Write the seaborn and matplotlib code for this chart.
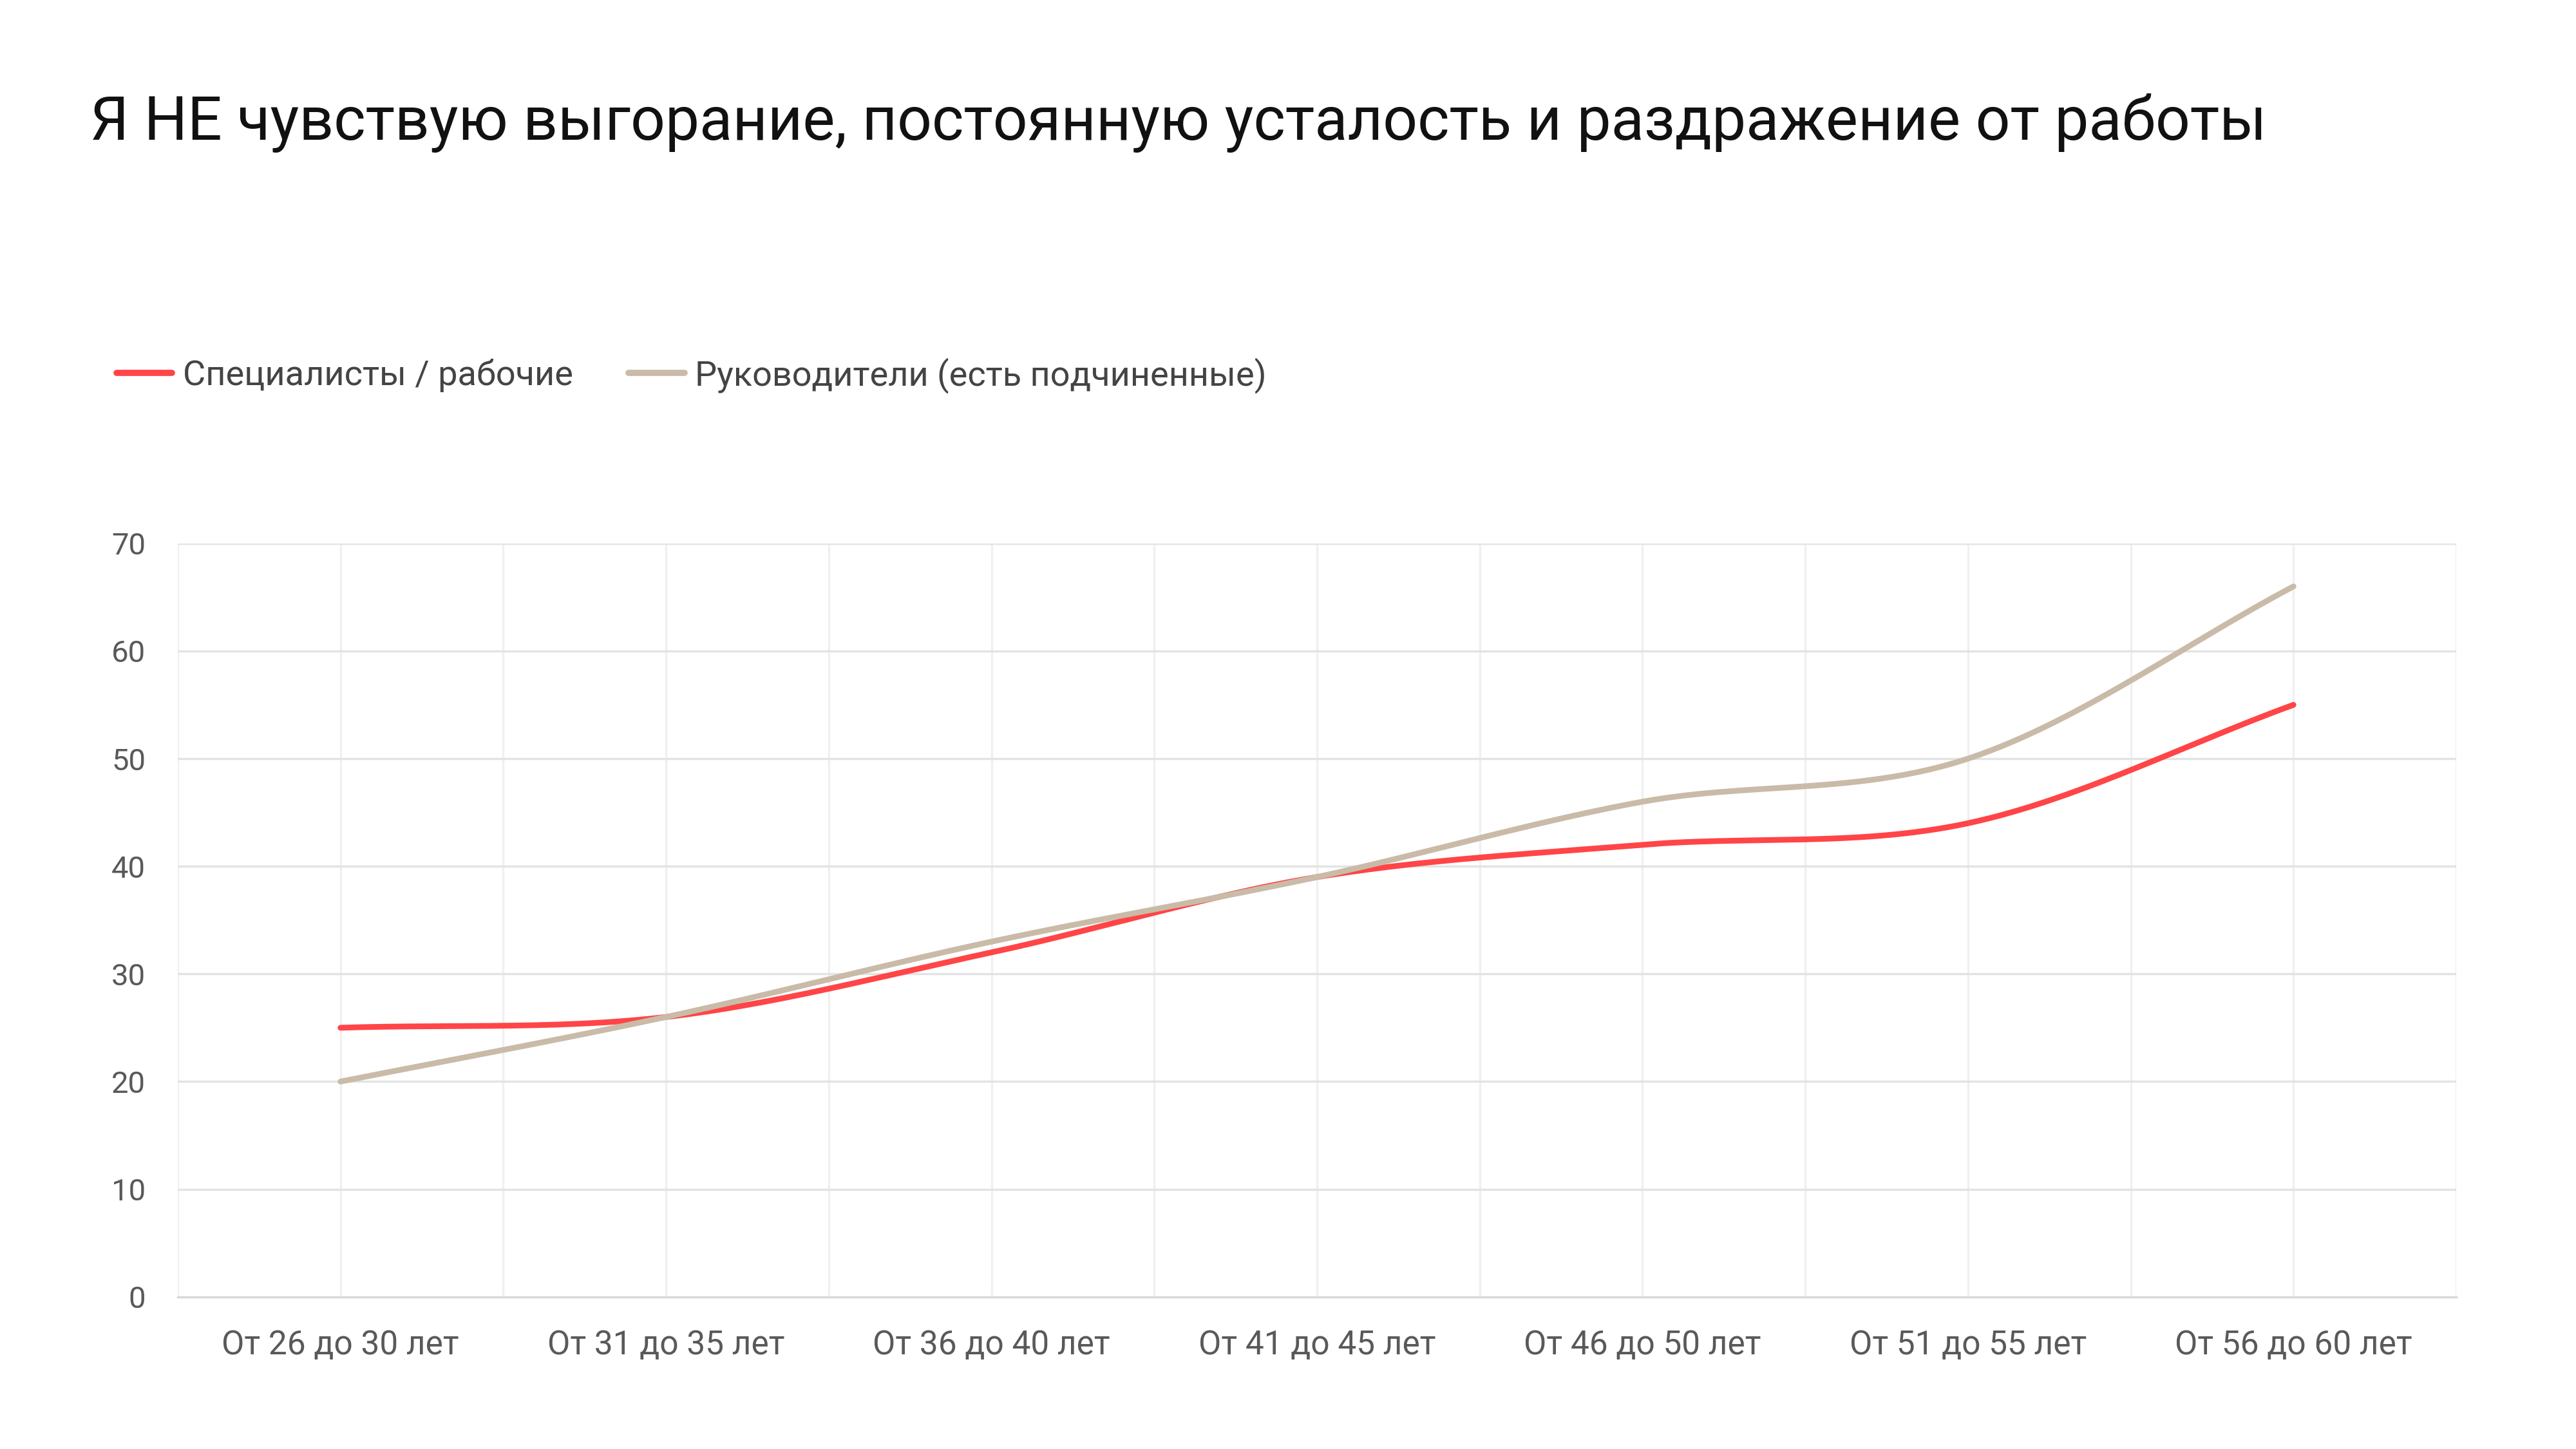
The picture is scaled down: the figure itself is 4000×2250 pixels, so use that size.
import numpy as np
import pandas as pd
import matplotlib
matplotlib.use("Agg")
import matplotlib.pyplot as plt
import seaborn as sns

categories = ["От 26 до 30 лет", "От 31 до 35 лет", "От 36 до 40 лет", "От 41 до 45 лет",
              "От 46 до 50 лет", "От 51 до 55 лет", "От 56 до 60 лет"]
specialists = [25, 26, 32, 39, 42, 44, 55]
managers = [20, 26, 33, 39, 46, 50, 66]
series_names = ["Специалисты / рабочие", "Руководители (есть подчиненные)"]
colors = ["#FF4547", "#C9BBA8"]

sns.set_theme(style="white")
plt.rcParams['font.family'] = ['Roboto', 'DejaVu Sans']

def smooth(y, n=30):
    # Catmull-Rom path through the data points (for drawing only)
    y = np.asarray(y, float)
    x = np.arange(len(y), dtype=float)
    P = np.r_[2*y[0]-y[1], y, 2*y[-1]-y[-2]]
    xs, ys = [], []
    for i in range(len(y)-1):
        t = np.linspace(0, 1, n, endpoint=False)
        p0, p1, p2, p3 = P[i], P[i+1], P[i+2], P[i+3]
        ys.append(0.5*((2*p1) + (-p0+p2)*t + (2*p0-5*p1+4*p2-p3)*t**2 + (-p0+3*p1-3*p2+p3)*t**3))
        xs.append(x[i] + t)
    xs.append([x[-1]]); ys.append([y[-1]])
    return np.concatenate(xs), np.concatenate(ys)

rows = []
for name, vals in zip(series_names, [specialists, managers]):
    xs, ys = smooth(vals)
    rows.append(pd.DataFrame({"x": xs, "y": ys, "s": name}))
df = pd.concat(rows)

fig = plt.figure(figsize=(20, 11.25), dpi=200)
ax = fig.add_axes([0.069, 0.105, 0.8845, 0.52])
sns.lineplot(data=df, x="x", y="y", hue="s", palette=colors, linewidth=3.2,
             ax=ax, sort=False, estimator=None, legend=False)
ax.set_xlim(-0.5, 6.5)
ax.set_ylim(0, 70)
ax.set_yticks(range(0, 71, 10))
ax.set_xticks(range(7))
ax.set_xticklabels(categories)
ax.set_xticks(np.arange(-0.5, 6.6, 1), minor=True)
ax.grid(True, axis="y", color="#E3E3E3", lw=1.2)
ax.grid(True, axis="x", which="both", color="#F0F0F0", lw=1.2)
ax.set_axisbelow(True)
for s in ["top", "left", "right"]:
    ax.spines[s].set_visible(False)
ax.spines["bottom"].set_color("#D9D9D9")
ax.tick_params(axis="both", labelsize=17, colors="#595959", length=0)
ax.tick_params(axis="x", labelsize=18.5, pad=18)
ax.tick_params(axis="y", pad=18)
ax.set_xlabel(""); ax.set_ylabel("")

fig.text(0.035, 0.915, "Я НЕ чувствую выгорание, постоянную усталость и раздражение от работы",
         fontsize=34, color="#111111", va="center")

from matplotlib.lines import Line2D
handles = [Line2D([], [], color=c, lw=3.5) for c in colors]
fig.legend(handles, series_names, loc="center left", bbox_to_anchor=(0.033, 0.741),
           frameon=False, fontsize=19.5, handlelength=1.6, handletextpad=0.3,
           columnspacing=1.6, ncol=2, labelcolor="#444444")

fig.savefig("out.png")
